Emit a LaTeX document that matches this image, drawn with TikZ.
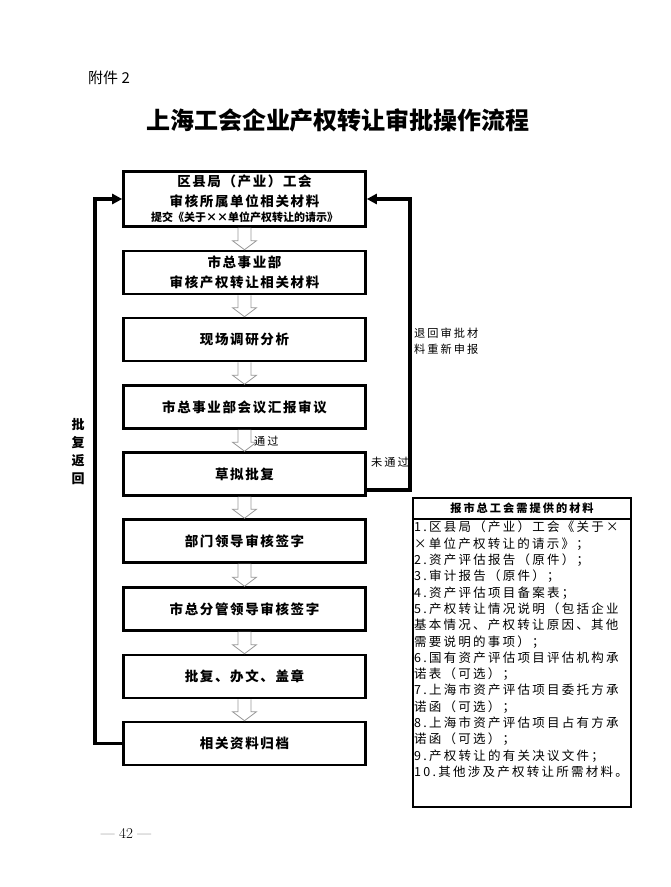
\documentclass[tikz,border=0pt]{standalone}
\usepackage{fontspec}
\usepackage{tikz}
\usetikzlibrary{arrows.meta,calc}

\newfontfamily\cjk{Noto Sans CJK SC}
\newfontfamily\cjksp[LetterSpace=12]{Noto Sans CJK SC}
\newfontfamily\cjkls[LetterSpace=18]{Noto Sans CJK SC}

% hollow arrow from the bottom of one box to the top of the next
\newcommand{\holarrow}[2]{%
  \draw[hollow] ($(#1.south)+(-6.5,0)$) -- ($(#2.north)+(-6.5,-9)$) -- ($(#2.north)+(-12,-9)$)
    -- (#2.north) -- ($(#2.north)+(12,-9)$) -- ($(#2.north)+(6.5,-9)$) -- ($(#1.south)+(6.5,0)$);
}

\begin{document}
\begin{tikzpicture}[x=1pt,y=-1pt,
    stepbox/.style={draw,line width=2.6pt,minimum width=242,minimum height=43,inner sep=0,align=center,
      font=\cjksp\bfseries\fontsize{13.5}{19.5}\selectfont},
    hollow/.style={draw=gray!80,line width=.8pt,fill=white},
    back/.style={line width=3.6pt,-{Triangle[length=10pt,width=10pt]}},
    lbl/.style={font=\cjkls\fontsize{11.2}{16}\selectfont,inner sep=0}]
  \useasboundingbox[fill=white] (0,0) rectangle (670,887);

  \node[font=\cjk\fontsize{15}{15}\selectfont,anchor=west,inner sep=0] (att) at (88,78) {附件 2};
  \node[font=\cjk\bfseries\fontsize{24}{24}\selectfont,inner sep=0] (title) at (338,120) {上海工会企业产权转让审批操作流程};

  % steps
  \node[stepbox,minimum height=55] (s1) at (244.5,199)
    {区县局（产业）工会\\审核所属单位相关材料\\[-4pt]{\cjk\bfseries\fontsize{11}{14}\selectfont 提交《关于××单位产权转让的请示》}};
  \node[stepbox] (s2) at (244.5,272.5) {市总事业部\\审核产权转让相关材料};
  \foreach \n/\y/\t in {3/339.5/现场调研分析,4/407/市总事业部会议汇报审议,5/474/草拟批复,
      6/541/部门领导审核签字,7/609/市总分管领导审核签字,8/676.5/批复、办文、盖章,9/743.5/相关资料归档}{
    \node[stepbox] (s\n) at (244.5,\y) {\t};
  }
  \foreach \a/\b in {1/2,2/3,3/4,4/5,5/6,6/7,7/8,8/9}{
    \holarrow{s\a}{s\b}
  }
  \node[lbl,anchor=west] (pass) at (254,441) {通过};

  % return loops
  \draw[back] (s9.west) -- ++(-27,0) |- (s1.west);
  \node[font=\cjk\bfseries\fontsize{13}{18}\selectfont,align=center,inner sep=0] (ret) at (78,452) {批\\复\\返\\回};

  \coordinate (fail) at ($(s5.south east)+(0,-7)$);
  \draw[back] (fail) -- ++(43,0) |- (s1.east);
  \node[lbl,anchor=west] (nopass) at (371,462) {未通过};
  \node[lbl,anchor=west,align=left] (resub) at (414,341) {退回审批材\\料重新申报};

  % materials
  \node[draw,line width=2pt,minimum width=218,minimum height=309,inner sep=0] (mat) at (522,652.5) {};
  \draw[line width=1.2pt] (413,519) -- (631,519);
  \node[font=\cjkls\bfseries\fontsize{11.2}{14}\selectfont,inner sep=0] (mathead) at (522,508) {报市总工会需提供的材料};
  \node[font=\cjkls\fontsize{12.5}{16.3}\selectfont,anchor=north west,align=left,inner sep=0] (matlist) at (414,521) {%
    1.区县局（产业）工会《关于×\\
    ×单位产权转让的请示》；\\
    2.资产评估报告（原件）；\\
    3.审计报告（原件）；\\
    4.资产评估项目备案表；\\
    5.产权转让情况说明（包括企业\\
    基本情况、产权转让原因、其他\\
    需要说明的事项）；\\
    6.国有资产评估项目评估机构承\\
    诺表（可选）；\\
    7.上海市资产评估项目委托方承\\
    诺函（可选）；\\
    8.上海市资产评估项目占有方承\\
    诺函（可选）；\\
    9.产权转让的有关决议文件；\\
    10.其他涉及产权转让所需材料。};

  \node[font=\fontsize{15}{15}\selectfont,inner sep=0] (page) at (126,833) {— 42 —};
\end{tikzpicture}
\end{document}
